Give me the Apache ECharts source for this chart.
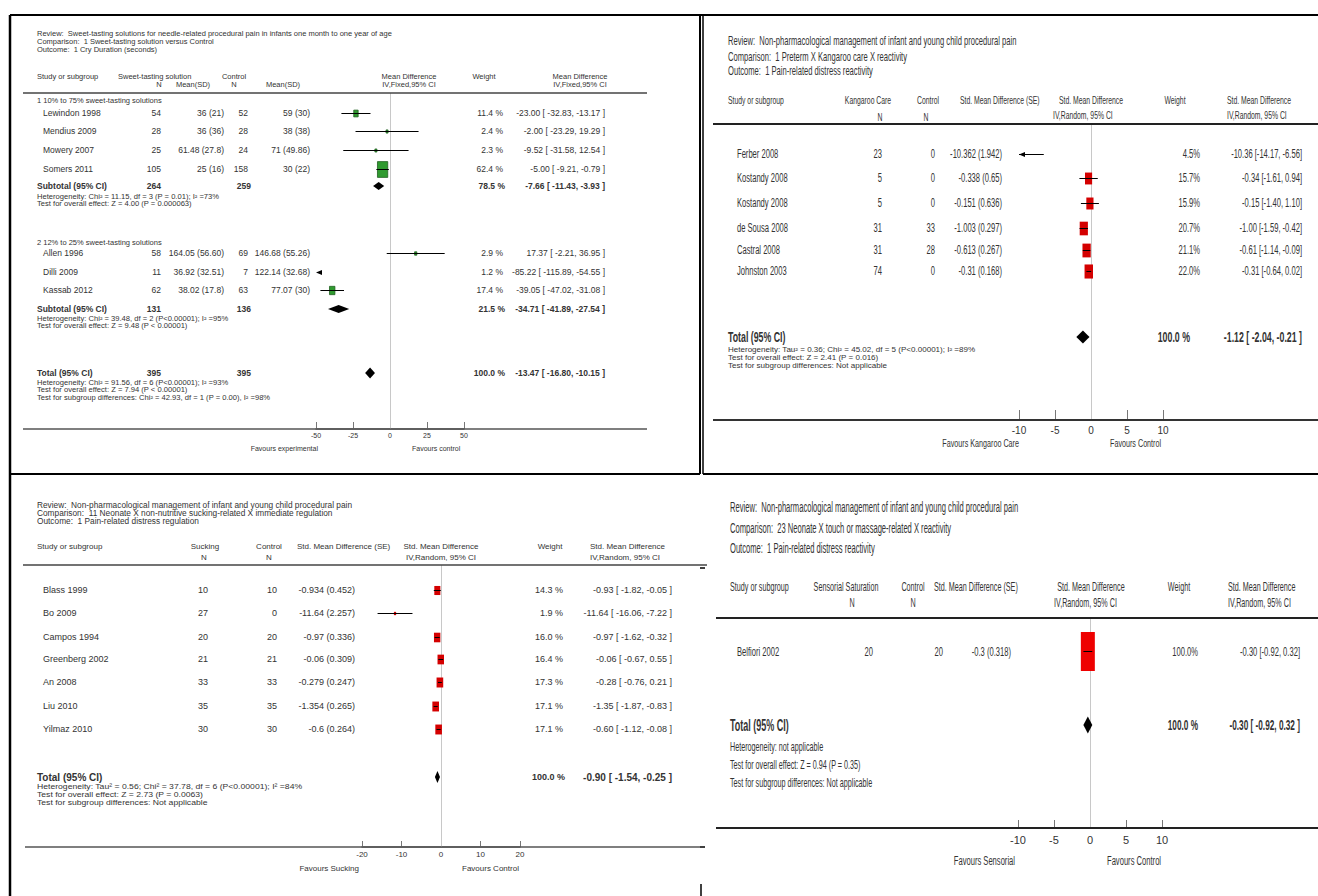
<!DOCTYPE html>
<html>
<head>
<meta charset="utf-8">
<title>Forest plots</title>
<script src="https://cdn.jsdelivr.net/npm/echarts/dist/echarts.min.js"></script>
<style>
  html, body { margin: 0; padding: 0; background: #fff; }
  #chart { width: 1318px; height: 896px; }
</style>
</head>
<body>
<div id="chart"></div>
<script>
// ---------------- Panel A: sweet-tasting solutions, cry duration (MD, fixed) ----------------
const aTitle = [
  'Review:  Sweet-tasting solutions for needle-related procedural pain in infants one month to one year of age',
  'Comparison:  1 Sweet-tasting solution versus Control',
  'Outcome:  1 Cry Duration (seconds)'
];
const aGroups = ['1 10% to 75% sweet-tasting solutions', '2 12% to 25% sweet-tasting solutions'];
const aStudies = ['Lewindon 1998', 'Mendius 2009', 'Mowery 2007', 'Somers 2011', 'Allen 1996', 'Dilli 2009', 'Kassab 2012'];
const aExpN = [54, 28, 25, 105, 58, 11, 62];
const aExpMeanSD = ['36 (21)', '36 (36)', '61.48 (27.8)', '25 (16)', '164.05 (56.60)', '36.92 (32.51)', '38.02 (17.8)'];
const aCtrlN = [52, 28, 24, 158, 69, 7, 63];
const aCtrlMeanSD = ['59 (30)', '38 (38)', '71 (49.86)', '30 (22)', '146.68 (55.26)', '122.14 (32.68)', '77.07 (30)'];
const aWeight = [11.4, 2.4, 2.3, 62.4, 2.9, 1.2, 17.4];
const aMD = [-23.00, -2.00, -9.52, -5.00, 17.37, -85.22, -39.05];
const aLo = [-32.83, -23.29, -31.58, -9.21, -2.21, -115.89, -47.02];
const aHi = [-13.17, 19.29, 12.54, -0.79, 36.95, -54.55, -31.08];
const aSubExpN = [264, 131];
const aSubCtrlN = [259, 136];
const aSubWeight = [78.5, 21.5];
const aSubMD = [-7.66, -34.71];
const aSubLo = [-11.43, -41.89];
const aSubHi = [-3.93, -27.54];
const aSubNotes = [
  ['Heterogeneity: Chi\u00b2 = 11.15, df = 3 (P = 0.01); I\u00b2 =73%', 'Test for overall effect: Z = 4.00 (P = 0.000063)'],
  ['Heterogeneity: Chi\u00b2 = 39.48, df = 2 (P<0.00001); I\u00b2 =95%', 'Test for overall effect: Z = 9.48 (P < 0.00001)']
];
const aTotalN = [395, 395];
const aTotalWeight = 100.0;
const aTotalMD = -13.47, aTotalLo = -16.80, aTotalHi = -10.15;
const aTotalNotes = [
  'Heterogeneity: Chi\u00b2 = 91.56, df = 6 (P<0.00001); I\u00b2 =93%',
  'Test for overall effect: Z = 7.94 (P < 0.00001)',
  'Test for subgroup differences: Chi\u00b2 = 42.93, df = 1 (P = 0.00), I\u00b2 =98%'
];
const aTicks = [-50, -25, 0, 25, 50];
const aFavours = ['Favours experimental', 'Favours control'];

// ---------------- Panel B: kangaroo care, distress reactivity (SMD, random) ----------------
const bTitle = [
  'Review:  Non-pharmacological management of infant and young child procedural pain',
  'Comparison:  1 Preterm X Kangaroo care X reactivity',
  'Outcome:  1 Pain-related distress reactivity'
];
const bStudies = ['Ferber 2008', 'Kostandy 2008', 'Kostandy 2008', 'de Sousa 2008', 'Castral 2008', 'Johnston 2003'];
const bCareN = [23, 5, 5, 31, 31, 74];
const bCtrlN = [0, 0, 0, 33, 28, 0];
const bSmdSE = ['-10.362 (1.942)', '-0.338 (0.65)', '-0.151 (0.636)', '-1.003 (0.297)', '-0.613 (0.267)', '-0.31 (0.168)'];
const bWeight = [4.5, 15.7, 15.9, 20.7, 21.1, 22.0];
const bEst = [-10.36, -0.34, -0.15, -1.00, -0.61, -0.31];
const bLo = [-14.17, -1.61, -1.40, -1.59, -1.14, -0.64];
const bHi = [-6.56, 0.94, 1.10, -0.42, -0.09, 0.02];
const bTotalWeight = 100.0;
const bTotalEst = -1.12, bTotalLo = -2.04, bTotalHi = -0.21;
const bNotes = [
  'Heterogeneity: Tau\u00b2 = 0.36; Chi\u00b2 = 45.02, df = 5 (P<0.00001); I\u00b2 =89%',
  'Test for overall effect: Z = 2.41 (P = 0.016)',
  'Test for subgroup differences: Not applicable'
];
const bTicks = [-10, -5, 0, 5, 10];
const bFavours = ['Favours Kangaroo Care', 'Favours Control'];

// ---------------- Panel C: non-nutritive sucking, immediate regulation ----------------
const cTitle = [
  'Review:  Non-pharmacological management of infant and young child procedural pain',
  'Comparison:  11 Neonate X non-nutritive sucking-related X immediate regulation',
  'Outcome:  1 Pain-related distress regulation'
];
const cStudies = ['Blass 1999', 'Bo 2009', 'Campos 1994', 'Greenberg 2002', 'An 2008', 'Liu 2010', 'Yilmaz 2010'];
const cSuckN = [10, 27, 20, 21, 33, 35, 30];
const cCtrlN = [10, 0, 20, 21, 33, 35, 30];
const cSmdSE = ['-0.934 (0.452)', '-11.64 (2.257)', '-0.97 (0.336)', '-0.06 (0.309)', '-0.279 (0.247)', '-1.354 (0.265)', '-0.6 (0.264)'];
const cWeight = [14.3, 1.9, 16.0, 16.4, 17.3, 17.1, 17.1];
const cEst = [-0.93, -11.64, -0.97, -0.06, -0.28, -1.35, -0.60];
const cLo = [-1.82, -16.06, -1.62, -0.67, -0.76, -1.87, -1.12];
const cHi = [-0.05, -7.22, -0.32, 0.55, 0.21, -0.83, -0.08];
const cTotalWeight = 100.0;
const cTotalEst = -0.90, cTotalLo = -1.54, cTotalHi = -0.25;
const cNotes = [
  'Heterogeneity: Tau\u00b2 = 0.56; Chi\u00b2 = 37.78, df = 6 (P<0.00001); I\u00b2 =84%',
  'Test for overall effect: Z = 2.73 (P = 0.0063)',
  'Test for subgroup differences: Not applicable'
];
const cTicks = [-20, -10, 0, 10, 20];
const cFavours = ['Favours Sucking', 'Favours Control'];

// ---------------- Panel D: touch / massage, reactivity ----------------
const dTitle = [
  'Review:  Non-pharmacological management of infant and young child procedural pain',
  'Comparison:  23 Neonate X touch or massage-related X reactivity',
  'Outcome:  1 Pain-related distress reactivity'
];
const dStudies = ['Belfiori 2002'];
const dSensN = [20];
const dCtrlN = [20];
const dSmdSE = ['-0.3 (0.318)'];
const dWeight = [100.0];
const dEst = [-0.30];
const dLo = [-0.92];
const dHi = [0.32];
const dTotalWeight = 100.0;
const dTotalEst = -0.30, dTotalLo = -0.92, dTotalHi = 0.32;
const dNotes = [
  'Heterogeneity: not applicable',
  'Test for overall effect: Z = 0.94 (P = 0.35)',
  'Test for subgroup differences: Not applicable'
];
const dTicks = [-10, -5, 0, 5, 10];
const dFavours = ['Favours Sensorial', 'Favours Control'];

// ---------------- drawing helpers ----------------
const INK = '#333';
const SANS = "'Liberation Sans', Arial, sans-serif";
const gfx = [];
const grids = [], xAxes = [], yAxes = [], series = [];

// text item; sx / sy stretch the glyphs around the anchor point
function T(x, y, text, size, o) {
  o = o || {};
  const al = o.align || 'left';
  gfx.push({
    type: 'text', x: x, y: y, scaleX: o.sx || 1, scaleY: o.sy || 1, silent: true, z: 10,
    style: {
      text: String(text),
      font: (o.bold ? 'bold ' : '') + size + 'px ' + SANS,
      fill: o.color || INK,
      align: al, textAlign: al, verticalAlign: 'middle', textVerticalAlign: 'middle'
    }
  });
}
function L(x1, y1, x2, y2, w, color) {
  gfx.push({ type: 'line', silent: true, z: 5, shape: { x1: x1, y1: y1, x2: x2, y2: y2 },
    style: { stroke: color || '#000', lineWidth: w || 1 } });
}
const ciText = (e, l, h) => e.toFixed(2) + ' [ ' + l.toFixed(2) + ', ' + h.toFixed(2) + ' ]';
const ciTight = (e, l, h) => e.toFixed(2) + ' [' + l.toFixed(2) + ', ' + h.toFixed(2) + ']';
const pct = w => w.toFixed(1) + ' %';
const pctTight = w => w.toFixed(1) + '%';
const with_ = (o, extra) => Object.assign({}, o, extra);

// one forest plot: scale, zero line, study marks and summary diamonds
function addForest(p) {
  const gi = grids.length;
  const min = p.ticks[0], max = p.ticks[p.ticks.length - 1];
  grids.push({ left: p.left, top: p.top, width: p.width, height: p.bottom - p.top, containLabel: false });
  xAxes.push({
    type: 'value', gridIndex: gi, min: min, max: max, interval: p.ticks[1] - p.ticks[0],
    axisLine: { show: true, lineStyle: { color: p.axisColor, width: p.axisWidth } },
    axisTick: { show: true, inside: true, length: p.tickLen, lineStyle: { color: '#777', width: 1 } },
    axisLabel: { margin: p.labelMargin, fontSize: p.labelSize, fontFamily: SANS, color: INK },
    splitLine: { show: false }
  });
  yAxes.push({ type: 'value', gridIndex: gi, min: p.top, max: p.bottom, inverse: true, show: false });

  // vertical line of no effect
  series.push({
    type: 'custom', xAxisIndex: gi, yAxisIndex: gi, clip: false, silent: true, z: 1,
    data: [[0, p.top, p.bottom]], encode: { x: 0, y: [1, 2] },
    renderItem: (params, api) => {
      const a = api.coord([api.value(0), api.value(1)]);
      const b = api.coord([api.value(0), api.value(2)]);
      const x = Math.round(a[0]) + 0.5;
      return { type: 'line', shape: { x1: x, y1: a[1], x2: x, y2: b[1] }, style: { stroke: '#c8c8c8', lineWidth: 1 } };
    }
  });

  // studies: weighted box + confidence interval, arrows when the interval leaves the scale
  series.push({
    type: 'custom', xAxisIndex: gi, yAxisIndex: gi, clip: false, silent: true, z: 3,
    data: p.studies, encode: { x: [0, 1, 2], y: 4 },
    renderItem: (params, api) => {
      const est = api.value(0), lo = api.value(1), hi = api.value(2), w = api.value(3), yv = api.value(4);
      const cl = v => Math.max(min, Math.min(max, v));
      const y = Math.round(api.coord([0, yv])[1]) + 0.5;
      const kids = [];
      if (est >= min && est <= max) {
        const cx = api.coord([est, yv])[0];
        const s = Math.sqrt(w);
        const bw = Math.max(p.boxKx * s, 2), bh = Math.max(p.boxKy * s, 2);
        kids.push({ type: 'rect', shape: { x: cx - bw / 2, y: y - bh / 2, width: bw, height: bh },
          style: { fill: p.boxColor, stroke: p.boxEdge, lineWidth: p.boxEdge ? 0.8 : 0 } });
      }
      const head = (xTip, dir) => ({ type: 'polygon',
        shape: { points: [[xTip, y], [xTip + dir * 6, y - 2.5], [xTip + dir * 6, y + 2.5]] },
        style: { fill: '#000' } });
      if (hi < min || lo > max) {
        const edge = api.coord([hi < min ? min : max, yv])[0];
        kids.push(head(edge, hi < min ? 1 : -1));
      } else {
        const x1 = api.coord([cl(lo), yv])[0], x2 = api.coord([cl(hi), yv])[0];
        kids.push({ type: 'line', shape: { x1: x1, y1: y, x2: x2, y2: y }, style: { stroke: '#000', lineWidth: 1 } });
        if (lo < min) kids.push(head(x1, 1));
        if (hi > max) kids.push(head(x2, -1));
      }
      return { type: 'group', children: kids };
    }
  });

  // pooled estimates as diamonds
  series.push({
    type: 'custom', xAxisIndex: gi, yAxisIndex: gi, clip: false, silent: true, z: 4,
    data: p.diamonds, encode: { x: [0, 1, 2], y: 3 },
    renderItem: (params, api) => {
      const yv = api.value(3), h = api.value(4);
      const c = api.coord([api.value(0), yv]);
      const l = api.coord([api.value(1), yv]);
      const r = api.coord([api.value(2), yv]);
      return { type: 'polygon',
        shape: { points: [[l[0], c[1]], [c[0], c[1] - h / 2], [r[0], c[1]], [c[0], c[1] + h / 2]] },
        style: { fill: '#000' } };
    }
  });
}

// ---------------- frames of the four panels ----------------
L(10, 15, 1318, 15, 2);
L(10, 15, 10, 896, 2.5);
L(700, 15, 700, 474, 2);
L(10, 474, 700, 474, 2);
L(703, 15, 703, 474, 1.5);
L(703, 474, 1318, 474, 2);
L(700, 568, 705, 568, 1.5);
L(700, 847, 705, 847, 1.5);
L(701, 884, 701, 896, 1.5);

// ================= Panel A =================
(function () {
  const top = 93, axisY = 429;
  const studyY = [113, 131, 150, 169, 253, 272, 290];
  const groupY = [100, 242], subY = [186, 309], subNoteY = [[197, 204], [319, 326]];
  const totalY = 373, totalNoteY = [383, 390, 398];
  const col = { name: 43, expN: 161, expMean: 224, ctrlN: 248, ctrlMean: 310, weight: 503, ci: 605 };
  const fr = 8.5, note = { sx: 1.17 };

  aTitle.forEach((s, i) => T(37, [33, 41, 49][i], s, 7.5));
  [['Study or subgroup', 37, 76, 'left'], ['Sweet-tasting solution', 118, 76, 'left'], ['N', 159, 84, 'center'],
   ['Mean(SD)', 193, 84, 'center'], ['Control', 234, 76, 'center'], ['N', 234, 84, 'center'],
   ['Mean(SD)', 283, 84, 'center'], ['Mean Difference', 409, 76, 'center'], ['IV,Fixed,95% CI', 409, 84, 'center'],
   ['Weight', 484, 76, 'center'], ['Mean Difference', 580, 76, 'center'], ['IV,Fixed,95% CI', 580, 84, 'center']]
    .forEach(h => T(h[1], h[2], h[0], 7.5, { align: h[3] }));
  L(23, top, 647, top, 1.5, '#444');
  L(23, axisY, 647, axisY, 1.5, '#555');

  aGroups.forEach((g, i) => T(37, groupY[i], g, 7.5));
  aStudies.forEach((s, i) => {
    const y = studyY[i];
    T(col.name, y, s, fr);
    T(col.expN, y, aExpN[i], fr, { align: 'right' });
    T(col.expMean, y, aExpMeanSD[i], fr, { align: 'right' });
    T(col.ctrlN, y, aCtrlN[i], fr, { align: 'right' });
    T(col.ctrlMean, y, aCtrlMeanSD[i], fr, { align: 'right' });
    T(col.weight, y, pct(aWeight[i]), fr, { align: 'right' });
    T(col.ci, y, ciText(aMD[i], aLo[i], aHi[i]), fr, { align: 'right' });
  });
  [0, 1].forEach(g => {
    const y = subY[g];
    T(37, y, 'Subtotal (95% CI)', fr, { bold: true });
    T(col.expN, y, aSubExpN[g], fr, { bold: true, align: 'right' });
    T(col.ctrlN + 3, y, aSubCtrlN[g], fr, { bold: true, align: 'right' });
    T(col.weight + 2, y, pct(aSubWeight[g]), fr, { bold: true, align: 'right' });
    T(col.ci, y, ciText(aSubMD[g], aSubLo[g], aSubHi[g]), fr, { bold: true, align: 'right' });
    aSubNotes[g].forEach((s, k) => T(37, subNoteY[g][k], s, 6.5, note));
  });
  T(37, totalY, 'Total (95% CI)', fr, { bold: true });
  T(col.expN, totalY, aTotalN[0], fr, { bold: true, align: 'right' });
  T(col.ctrlN + 3, totalY, aTotalN[1], fr, { bold: true, align: 'right' });
  T(col.weight + 2, totalY, pct(aTotalWeight), fr, { bold: true, align: 'right' });
  T(col.ci, totalY, ciText(aTotalMD, aTotalLo, aTotalHi), fr, { bold: true, align: 'right' });
  aTotalNotes.forEach((s, k) => T(37, totalNoteY[k], s, 6.5, note));
  T(318, 448, aFavours[0], 7, { align: 'right' });
  T(412, 448, aFavours[1], 7);

  addForest({
    ticks: aTicks, left: 316, width: 148, top: top, bottom: axisY,
    axisColor: '#555', axisWidth: 1.5, tickLen: 7, labelMargin: 3, labelSize: 7,
    boxKx: 1.3, boxKy: 2.0, boxColor: '#2f9a2f', boxEdge: '#1f5f1f',
    studies: aStudies.map((s, i) => [aMD[i], aLo[i], aHi[i], aWeight[i], studyY[i]]),
    diamonds: [[aSubMD[0], aSubLo[0], aSubHi[0], subY[0], 8], [aSubMD[1], aSubLo[1], aSubHi[1], subY[1], 8],
               [aTotalMD, aTotalLo, aTotalHi, totalY, 11]]
  });
})();

// ================= Panel B =================
(function () {
  const top = 124, axisY = 420;
  const studyY = [154, 178, 203, 228, 250, 271];
  const totalY = 337, noteY = [350, 358, 366];
  const col = { name: 737, careN: 882, ctrlN: 935, se: 1002, weight: 1200, ci: 1302 };
  const row = { sx: 0.8, sy: 1.25 };
  const head = { sx: 0.76, sy: 1.25 };
  const big = { sx: 0.8, sy: 1.3, bold: true };

  bTitle.forEach((s, i) => T(728, [41, 57, 71][i], s, 9.5, { sx: 0.8, sy: 1.3 }));
  [['Study or subgroup', 728, 100, 'left'], ['Kangaroo Care', 868, 100, 'center'], ['N', 880, 117, 'center'],
   ['Control', 928, 100, 'center'], ['N', 926, 117, 'center'], ['Std. Mean Difference (SE)', 960, 100, 'left'],
   ['Std. Mean Difference', 1091, 100, 'center'], ['IV,Random, 95% CI', 1053, 115, 'left'],
   ['Weight', 1175, 100, 'center'], ['Std. Mean Difference', 1227, 100, 'left'], ['IV,Random, 95% CI', 1227, 115, 'left']]
    .forEach(h => T(h[1], h[2], h[0], 9, with_(head, { align: h[3] })));
  L(713, top, 1318, top, 2, '#222');
  L(713, axisY, 1318, axisY, 2, '#333');

  bStudies.forEach((s, i) => {
    const y = studyY[i];
    const r = with_(row, { align: 'right' });
    T(col.name, y, s, 9.5, row);
    T(col.careN, y, bCareN[i], 9.5, r);
    T(col.ctrlN, y, bCtrlN[i], 9.5, r);
    T(col.se, y, bSmdSE[i], 9.5, r);
    T(col.weight, y, pctTight(bWeight[i]), 9.5, r);
    T(col.ci, y, ciTight(bEst[i], bLo[i], bHi[i]), 9.5, r);
  });
  T(728, totalY, 'Total (95% CI)', 11, big);
  T(1190, totalY, pct(bTotalWeight), 11, with_(big, { align: 'right' }));
  T(col.ci, totalY, ciText(bTotalEst, bTotalLo, bTotalHi), 11, with_(big, { align: 'right' }));
  bNotes.forEach((s, k) => T(728, noteY[k], s, 7, { sx: 1.15 }));
  T(1019, 443, bFavours[0], 9, { sx: 0.8, sy: 1.2, align: 'right' });
  T(1110, 443, bFavours[1], 9, { sx: 0.8, sy: 1.2 });

  addForest({
    ticks: bTicks, left: 1019, width: 144, top: top, bottom: axisY,
    axisColor: '#333', axisWidth: 2, tickLen: 10, labelMargin: 5, labelSize: 10,
    boxKx: 1.8, boxKy: 3.0, boxColor: '#d40000',
    studies: bStudies.map((s, i) => [bEst[i], bLo[i], bHi[i], bWeight[i], studyY[i]]),
    diamonds: [[bTotalEst, bTotalLo, bTotalHi, totalY, 13]]
  });
})();

// ================= Panel C =================
(function () {
  const top = 565, axisY = 847;
  const studyY = [590, 613, 637, 659, 682, 706, 729];
  const totalY = 777, noteY = [787, 795, 803];
  const col = { name: 43, suckN: 208, ctrlN: 277, se: 355, weight: 563, ci: 672 };
  const fr = 9;

  cTitle.forEach((s, i) => T(37, [505, 513, 521][i], s, 8.3));
  [['Study or subgroup', 37, 546, 'left'], ['Sucking', 205, 546, 'center'], ['N', 204, 557, 'center'],
   ['Control', 269, 546, 'center'], ['N', 269, 557, 'center'], ['Std. Mean Difference (SE)', 297, 546, 'left'],
   ['Std. Mean Difference', 441, 546, 'center'], ['IV,Random, 95% CI', 441, 557, 'center'],
   ['Weight', 550, 546, 'center'], ['Std. Mean Difference', 590, 546, 'left'], ['IV,Random, 95% CI', 590, 557, 'left']]
    .forEach(h => T(h[1], h[2], h[0], 8, { align: h[3] }));
  L(23, top, 707, top, 1.5, '#444');
  L(25, axisY, 700, axisY, 1.5, '#555');

  cStudies.forEach((s, i) => {
    const y = studyY[i];
    T(col.name, y, s, fr);
    T(col.suckN, y, cSuckN[i], fr, { align: 'right' });
    T(col.ctrlN, y, cCtrlN[i], fr, { align: 'right' });
    T(col.se, y, cSmdSE[i], fr, { align: 'right' });
    T(col.weight, y, pct(cWeight[i]), fr, { align: 'right' });
    T(col.ci, y, ciText(cEst[i], cLo[i], cHi[i]), fr, { align: 'right' });
  });
  T(37, totalY, 'Total (95% CI)', 10, { bold: true });
  T(565, totalY, pct(cTotalWeight), 9, { bold: true, align: 'right' });
  T(col.ci, totalY, ciText(cTotalEst, cTotalLo, cTotalHi), 10, { bold: true, align: 'right' });
  cNotes.forEach((s, k) => T(37, noteY[k], s, 7.5, { sx: 1.15 }));
  T(359, 868, cFavours[0], 8, { align: 'right' });
  T(462, 868, cFavours[1], 8);

  addForest({
    ticks: cTicks, left: 362, width: 158, top: top, bottom: axisY,
    axisColor: '#555', axisWidth: 1.5, tickLen: 6, labelMargin: 3, labelSize: 8,
    boxKx: 1.6, boxKy: 2.4, boxColor: '#d40000',
    studies: cStudies.map((s, i) => [cEst[i], cLo[i], cHi[i], cWeight[i], studyY[i]]),
    diamonds: [[cTotalEst, cTotalLo, cTotalHi, totalY, 12]]
  });
})();

// ================= Panel D =================
(function () {
  const top = 618, axisY = 828;
  const studyY = [651];
  const totalY = 725, noteY = [747, 765, 783];
  const col = { name: 737, sensN: 873, ctrlN: 943, se: 1011, weight: 1198, ci: 1300 };
  const row = { sx: 0.8, sy: 1.4 };
  const big = { sx: 0.75, sy: 1.4, bold: true };

  dTitle.forEach((s, i) => T(730, [507, 528, 548][i], s, 9.5, { sx: 0.8, sy: 1.45 }));
  [['Study or subgroup', 730, 587, 'left'], ['Sensorial Saturation', 846, 587, 'center'], ['N', 852, 603, 'center'],
   ['Control', 913, 587, 'center'], ['N', 913, 603, 'center'], ['Std. Mean Difference (SE)', 934, 587, 'left'],
   ['Std. Mean Difference', 1091, 587, 'center'], ['IV,Random, 95% CI', 1054, 603, 'left'],
   ['Weight', 1179, 587, 'center'], ['Std. Mean Difference', 1228, 587, 'left'], ['IV,Random, 95% CI', 1228, 603, 'left']]
    .forEach(h => T(h[1], h[2], h[0], 9, with_(row, { align: h[3] })));
  L(716, top, 1318, top, 2, '#222');
  L(716, axisY, 1318, axisY, 2, '#222');

  dStudies.forEach((s, i) => {
    const y = studyY[i];
    const r = with_(row, { align: 'right' });
    T(col.name, y, s, 9.5, row);
    T(col.sensN, y, dSensN[i], 9.5, r);
    T(col.ctrlN, y, dCtrlN[i], 9.5, r);
    T(col.se, y, dSmdSE[i], 9.5, r);
    T(col.weight, y, pctTight(dWeight[i]), 9.5, r);
    T(col.ci, y, ciTight(dEst[i], dLo[i], dHi[i]), 9.5, r);
  });
  T(730, totalY, 'Total (95% CI)', 12, big);
  T(col.weight, totalY, pct(dTotalWeight), 11, with_(big, { align: 'right' }));
  T(col.ci, totalY, ciText(dTotalEst, dTotalLo, dTotalHi), 11, with_(big, { align: 'right' }));
  dNotes.forEach((s, k) => T(730, noteY[k], s, 9, row));
  T(1015, 860, dFavours[0], 9.5, with_(row, { align: 'right' }));
  T(1107, 860, dFavours[1], 9.5, row);

  addForest({
    ticks: dTicks, left: 1018, width: 144, top: top, bottom: axisY,
    axisColor: '#222', axisWidth: 2, tickLen: 8, labelMargin: 6, labelSize: 11,
    boxKx: 1.4, boxKy: 3.9, boxColor: '#ee0000',
    studies: dStudies.map((s, i) => [dEst[i], dLo[i], dHi[i], dWeight[i], studyY[i]]),
    diamonds: [[dTotalEst, dTotalLo, dTotalHi, totalY, 17]]
  });
})();

const chart = echarts.init(document.getElementById('chart'), null, { renderer: 'svg', width: 1318, height: 896 });
chart.setOption({
  animation: false,
  backgroundColor: '#ffffff',
  grid: grids,
  xAxis: xAxes,
  yAxis: yAxes,
  series: series,
  graphic: { elements: gfx }
});
</script>
</body>
</html>
